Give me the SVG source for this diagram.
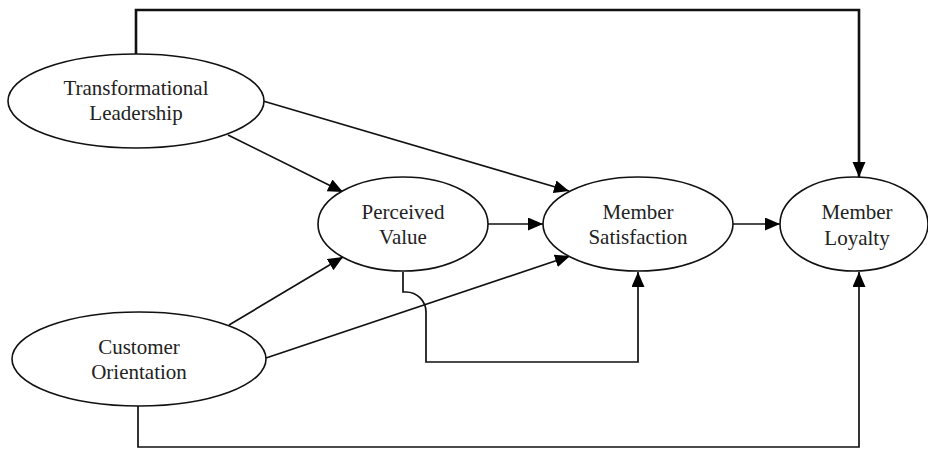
<svg xmlns="http://www.w3.org/2000/svg" width="928" height="450" viewBox="0 0 928 450">
<defs>
<marker id="ah" markerUnits="userSpaceOnUse" markerWidth="16" markerHeight="14" refX="15" refY="6.5" orient="auto">
<path d="M0,0 L15,6.5 L0,13 z" fill="#000"/>
</marker>
<style>
.n ellipse{fill:#fff;stroke:#111;stroke-width:1.6}
.n text{font-family:"Liberation Serif","Times New Roman",serif;font-size:21px;fill:#222;text-anchor:middle}
.c path,.c line{fill:none;stroke:#111;stroke-width:1.7}
.c .thick{stroke-width:2.6}
</style>
</defs>
<rect width="928" height="450" fill="#fff"/>
<g class="c" id="connectors">
<path class="thick" d="M136,54 V10 H859 V177" marker-end="url(#ah)"/>
<path d="M138,406 V447 H859 V272" marker-end="url(#ah)"/>
<line x1="228" y1="135" x2="343" y2="192" marker-end="url(#ah)"/>
<line x1="263" y1="101" x2="569" y2="191" marker-end="url(#ah)"/>
<line x1="488" y1="224" x2="543" y2="224" marker-end="url(#ah)"/>
<line x1="733" y1="224" x2="780" y2="224" marker-end="url(#ah)"/>
<line x1="229" y1="325" x2="343" y2="257" marker-end="url(#ah)"/>
<line x1="266" y1="358" x2="570" y2="256" marker-end="url(#ah)"/>
<path d="M403,272 V292 H406 A20,20 0 0 1 426,312 V362 H638 V272" marker-end="url(#ah)"/>
</g>
<g class="n" id="transformational-leadership">
<ellipse cx="136" cy="101" rx="128" ry="47"/>
<text x="136" y="95">Transformational</text>
<text x="136" y="120">Leadership</text>
</g>
<g class="n" id="customer-orientation">
<ellipse cx="139" cy="359" rx="127" ry="47"/>
<text x="139" y="354">Customer</text>
<text x="139" y="379">Orientation</text>
</g>
<g class="n" id="perceived-value">
<ellipse cx="403" cy="224" rx="85" ry="47"/>
<text x="403" y="219">Perceived</text>
<text x="403" y="244">Value</text>
</g>
<g class="n" id="member-satisfaction">
<ellipse cx="638" cy="224" rx="95" ry="47"/>
<text x="638" y="219">Member</text>
<text x="638" y="244">Satisfaction</text>
</g>
<g class="n" id="member-loyalty">
<ellipse cx="854" cy="224" rx="74" ry="47"/>
<text x="857" y="219">Member</text>
<text x="857" y="245">Loyalty</text>
</g>
</svg>
